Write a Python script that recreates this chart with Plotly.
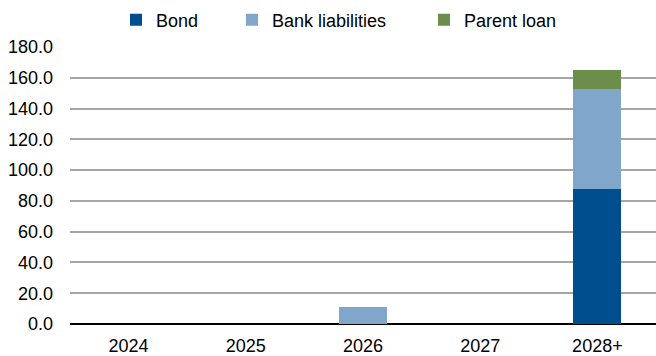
import plotly.graph_objects as go

categories = ["2024", "2025", "2026", "2027", "2028+"]
bond = [0, 0, 0, 0, 88.0]
bank_liabilities = [0, 0, 10.8, 0, 64.5]
parent_loan = [0, 0, 0, 0, 12.5]
y_ticks = [0, 20, 40, 60, 80, 100, 120, 140, 160, 180]
y_tick_labels = [f"{v:.1f}" for v in y_ticks]

W, H = 656, 356
FONT = "Liberation Sans, Arial, sans-serif"
FS = 18

fig = go.Figure()
fig.add_trace(go.Bar(x=categories, y=bond, name="Bond", marker_color="#004E8D",
                     marker_line_width=0, legend="legend", showlegend=True))
fig.add_trace(go.Bar(x=categories, y=bank_liabilities, name="Bank liabilities",
                     marker_color="#80A7C9", marker_line_width=0, legend="legend2",
                     showlegend=True))
fig.add_trace(go.Bar(x=categories, y=parent_loan, name="Parent loan",
                     marker_color="#6B8F4B", marker_line_width=0, legend="legend3",
                     showlegend=True))

def leg(px):
    return dict(x=px / W, xref="container", xanchor="left",
                y=1 - 20 / H, yref="container", yanchor="middle",
                orientation="h", bgcolor="rgba(0,0,0,0)", borderwidth=0,
                font=dict(family=FONT, size=FS, color="#000000"))

fig.update_layout(
    width=W, height=H,
    margin=dict(l=70, r=0, t=47, b=32, autoexpand=False),
    paper_bgcolor="white", plot_bgcolor="white",
    barmode="stack", bargap=0.59,
    showlegend=True,
    font=dict(family=FONT, size=FS, color="#000000"),
    legend=leg(116),
    legend2=leg(232),
    legend3=leg(424),
    xaxis=dict(type="category", showgrid=False, showline=False, ticks="",
               automargin=False, ticklabelstandoff=9,
               tickfont=dict(family=FONT, size=FS, color="#000000")),
    yaxis=dict(range=[0, 180], tickvals=y_ticks, ticktext=y_tick_labels,
               showgrid=True, gridcolor="#A6A6A6", gridwidth=1.5,
               zeroline=True, zerolinecolor="#000000", zerolinewidth=2,
               showline=False, ticks="", ticklabelstandoff=16, automargin=False,
               tickfont=dict(family=FONT, size=FS, color="#000000")),
)

fig.write_html(
    "out.html",
    config={"displayModeBar": False},
    post_script="document.body.style.margin='0';document.body.style.overflow='hidden';",
)
